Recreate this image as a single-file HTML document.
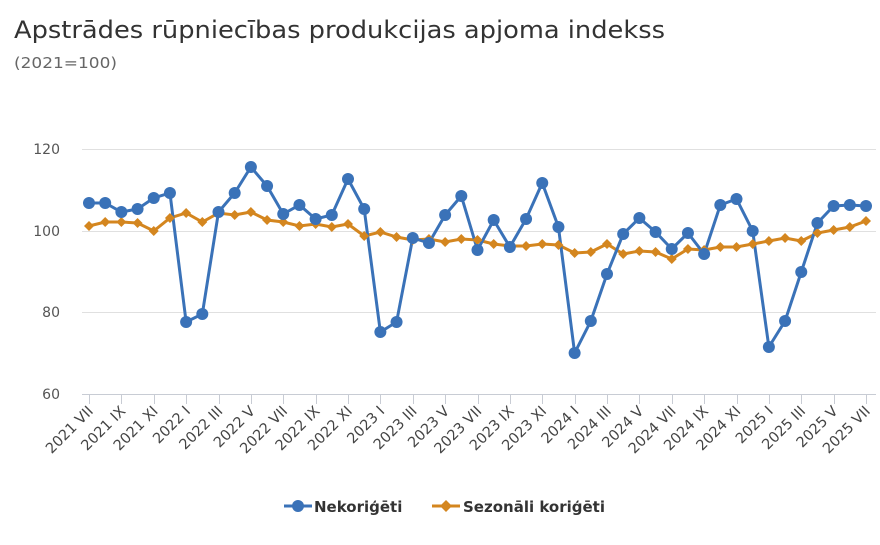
<!DOCTYPE html>
<html><head><meta charset="utf-8"><style>
body{margin:0;background:#fff;font-family:"DejaVu Sans",sans-serif}
</style></head><body>
<svg width="880" height="541" xmlns="http://www.w3.org/2000/svg" font-family="DejaVu Sans, sans-serif">
<text x="14" y="38" font-size="24" fill="#333" textLength="651" lengthAdjust="spacingAndGlyphs">Apstrādes rūpniecības produkcijas apjoma indekss</text>
<text x="14" y="68" font-size="15" fill="#666" textLength="103" lengthAdjust="spacingAndGlyphs">(2021=100)</text>
<g stroke="#e0e0e0" stroke-width="1">
<line x1="82" x2="876" y1="149.5" y2="149.5"/><line x1="82" x2="876" y1="231.5" y2="231.5"/><line x1="82" x2="876" y1="312.5" y2="312.5"/>
</g>
<line x1="82" x2="876" y1="394.5" y2="394.5" stroke="#c8ccd4" stroke-width="1"/>
<g id="tk" stroke="#c8ccd4" stroke-width="1"></g>
<g font-size="14" fill="#555" text-anchor="end">
<text x="60" y="154">120</text><text x="60" y="236">100</text><text x="60" y="317">80</text><text x="60" y="399">60</text>
</g>
<g id="lbl" font-size="14.5" fill="#444" text-anchor="end"></g>
<polyline id="o" fill="none" stroke="#d4861f" stroke-width="3"/>
<polyline id="b" fill="none" stroke="#3a72b8" stroke-width="3"/>
<g id="om" fill="#d4861f"></g>
<g id="bm" fill="#3a72b8"></g>
<line x1="284" x2="312" y1="506" y2="506" stroke="#3a72b8" stroke-width="3"/><circle cx="298" cy="506" r="6" fill="#3a72b8"/>
<text x="314" y="512" font-size="15" font-weight="bold" fill="#333">Nekoriģēti</text>
<line x1="432" x2="460" y1="506" y2="506" stroke="#d4861f" stroke-width="3"/><path d="M446 500 L452 506 L446 512 L440 506Z" fill="#d4861f"/>
<text x="463" y="512" font-size="15" font-weight="bold" fill="#333">Sezonāli koriģēti</text>
</svg>
<script>
var B=[203,203,212,209,198,193,322,314,212,193,167,186,214,205,219,215,179,209,332,322,238,243,215,196,250,220,247,219,183,227,353,321,274,234,218,232,249,233,254,205,199,231,347,321,272,223,206,205,206];
var O=[226,222,222,223,231,218,213,222,213,215,212,220,222,226,224,227,224,236,232,237,240,239,242,239,240,244,246,246,244,245,253,252,244,254,251,252,259,249,250,247,247,244,241,238,241,233,230,227,221];
var ns="http://www.w3.org/2000/svg";
function X(i){return 89+i*(777/48);}
var pb=[],po=[];
for(var i=0;i<49;i++){pb.push(X(i)+","+B[i]);po.push(X(i)+","+O[i]);
var c=document.createElementNS(ns,"circle");c.setAttribute("cx",X(i));c.setAttribute("cy",B[i]);c.setAttribute("r",6);document.getElementById("bm").appendChild(c);
var p=document.createElementNS(ns,"path");var x=X(i),y=O[i];p.setAttribute("d","M"+x+" "+(y-5)+"L"+(x+5)+" "+y+"L"+x+" "+(y+5)+"L"+(x-5)+" "+y+"Z");document.getElementById("om").appendChild(p);}
document.getElementById("b").setAttribute("points",pb.join(" "));
document.getElementById("o").setAttribute("points",po.join(" "));
var m=["VII","IX","XI","I","III","V"],yr=2021,g=document.getElementById("lbl"),tk=document.getElementById("tk");
for(var k=0;k<25;k++){var mm=m[k%6];if(mm=="I")yr++;var t=document.createElementNS(ns,"text");var x=X(k*2)+5,y=412;
t.setAttribute("x",x);t.setAttribute("y",y);t.setAttribute("transform","rotate(-45 "+x+" "+y+")");t.textContent=yr+" "+mm;g.appendChild(t);
var l=document.createElementNS(ns,"line");var tx=Math.round(X(k*2))+0.5;l.setAttribute("x1",tx);l.setAttribute("x2",tx);l.setAttribute("y1",395);l.setAttribute("y2",404);tk.appendChild(l);}
</script>
</body></html>
